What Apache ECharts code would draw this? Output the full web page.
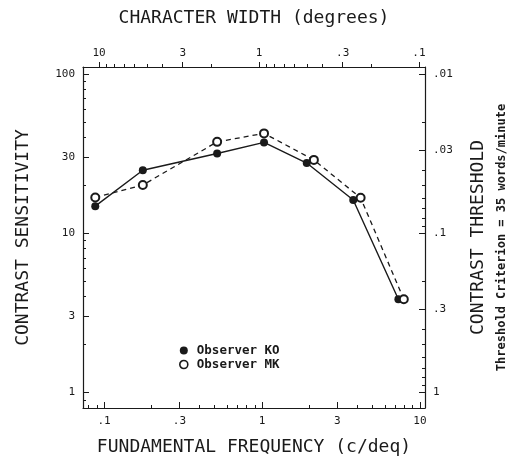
<!DOCTYPE html>
<html>
<head>
<meta charset="utf-8">
<script src="https://cdn.jsdelivr.net/npm/echarts@6/dist/echarts.min.js"></script>
<style>
html, body { margin: 0; padding: 0; background: #fff; }
#chart { width: 511px; height: 463px; }
</style>
</head>
<body>
<div id="chart"></div>
<script>
// fundamental frequency (c/deg) and contrast sensitivity
const freqKO = [0.088, 0.176, 0.52, 1.03, 1.92, 3.78, 7.3];
const sensKO = [14.8, 24.9, 31.7, 37.2, 27.6, 16.2, 3.85];
const freqMK = [0.088, 0.176, 0.52, 1.03, 2.13, 4.21, 7.9];
const sensMK = [16.8, 20.1, 37.5, 42.4, 28.9, 16.7, 3.85];

// tick labels
const freqTicks = [0.1, 0.3, 1, 3, 10];
const widthTicks = [10, 3, 1, 0.3, 0.1];
const sensTicks = [1, 3, 10, 30, 100];
const threshTicks = [0.01, 0.03, 0.1, 0.3, 1];

const ink = '#1a1a1a';
const mono = 'DejaVu Sans Mono';

// 1..9 x 10^d tick marks between two decades
function minorTicks(d0, d1) {
  const out = [];
  for (let d = d0; d <= d1; d++) {
    for (let k = 1; k < 10; k++) out.push(+(k * Math.pow(10, d)).toPrecision(3));
  }
  return out;
}
const fmt = v => (v < 1 ? String(v).replace(/^0/, '') : String(v));

// plot extents
const fMin = 0.0736, fMax = 10.76;
const wMin = 0.0917, wMax = 12.6;
const sMin = 0.80, sMax = 110.7;

const axisLine = { show: true, onZero: false, lineStyle: { color: ink, width: 1.2 } };
const label = { color: ink, fontFamily: mono, fontSize: 11, margin: 8 };
const title = { color: ink, fontFamily: mono, fontSize: 18 };

function major(o) {
  return Object.assign({
    type: 'log', logBase: 10, gridIndex: 0,
    splitLine: { show: false },
    axisLine: axisLine,
    nameLocation: 'middle',
    nameTextStyle: title
  }, o);
}
// second grid on top of the first, only for the short 2..9 ticks
function minor(o) {
  return Object.assign({
    type: 'log', logBase: 10, gridIndex: 1,
    splitLine: { show: false },
    axisLine: { show: false, onZero: false },
    axisLabel: { show: false }
  }, o);
}

const box = { left: 83, right: 86, top: 67, bottom: 55, outerBoundsMode: 'none' };

const chart = echarts.init(document.getElementById('chart'));
chart.setOption({
  animation: false,
  backgroundColor: '#fff',
  grid: [Object.assign({}, box), Object.assign({}, box)],
  legend: {
    orient: 'vertical',
    left: 174, top: 339,
    itemWidth: 8, itemHeight: 8, itemGap: 1,
    textStyle: { color: ink, fontFamily: mono, fontSize: 12.5, fontWeight: 'bold', padding: [0, 0, 0, 4] },
    data: [
      { name: 'Observer KO', icon: 'circle', itemStyle: { color: ink } },
      { name: 'Observer MK', icon: 'circle', itemStyle: { color: '#fff', borderColor: ink, borderWidth: 1.6 } }
    ]
  },
  xAxis: [
    major({
      position: 'bottom', min: fMin, max: fMax,
      name: 'FUNDAMENTAL FREQUENCY (c/deq)', nameGap: 30,
      axisTick: { inside: true, length: 6, customValues: freqTicks, lineStyle: { color: ink } },
      axisLabel: Object.assign({ customValues: freqTicks, formatter: fmt }, label)
    }),
    major({
      position: 'top', inverse: true, min: wMin, max: wMax,
      name: 'CHARACTER WIDTH (degrees)', nameGap: 40,
      axisTick: { inside: false, length: 5, customValues: widthTicks, lineStyle: { color: ink } },
      axisLabel: Object.assign({ customValues: widthTicks, formatter: fmt }, label)
    }),
    minor({
      position: 'bottom', min: fMin, max: fMax,
      axisTick: { inside: true, length: 3, customValues: minorTicks(-2, 1), lineStyle: { color: ink } }
    }),
    minor({
      position: 'top', inverse: true, min: wMin, max: wMax,
      axisTick: { inside: false, length: 3, customValues: minorTicks(-2, 1), lineStyle: { color: ink } }
    })
  ],
  yAxis: [
    major({
      position: 'left', min: sMin, max: sMax,
      name: 'CONTRAST SENSITIVITY', nameGap: 51,
      axisTick: { inside: true, length: 6, customValues: sensTicks, lineStyle: { color: ink } },
      axisLabel: Object.assign({ customValues: sensTicks, formatter: fmt }, label)
    }),
    major({
      position: 'right', inverse: true, min: 1 / sMax, max: 1 / sMin,
      name: 'CONTRAST THRESHOLD', nameGap: 44,
      axisTick: { inside: true, length: 6, customValues: threshTicks, lineStyle: { color: ink } },
      axisLabel: Object.assign({ customValues: threshTicks, formatter: fmt }, label)
    }),
    minor({
      position: 'left', min: sMin, max: sMax,
      axisTick: { inside: true, length: 3, customValues: minorTicks(-1, 2), lineStyle: { color: ink } }
    }),
    minor({
      position: 'right', inverse: true, min: 1 / sMax, max: 1 / sMin,
      name: 'Threshold Criterion = 35 words/minute', nameLocation: 'middle', nameGap: 71,
      nameTextStyle: { color: ink, fontFamily: mono, fontSize: 12, fontWeight: 'bold' },
      axisTick: { inside: true, length: 3, customValues: minorTicks(-3, 0), lineStyle: { color: ink } }
    })
  ],
  series: [
    {
      name: 'Observer KO', type: 'line', xAxisIndex: 0, yAxisIndex: 0,
      symbol: 'circle', symbolSize: 8,
      itemStyle: { color: ink },
      lineStyle: { color: ink, width: 1.4 },
      data: freqKO.map((f, i) => [f, sensKO[i]])
    },
    {
      name: 'Observer MK', type: 'line', xAxisIndex: 0, yAxisIndex: 0,
      symbol: 'emptyCircle', symbolSize: 8,
      itemStyle: { color: ink, borderWidth: 1.6 },
      lineStyle: { color: ink, width: 1.3, type: [5, 4] },
      data: freqMK.map((f, i) => [f, sensMK[i]])
    }
  ]
});
</script>
</body>
</html>
